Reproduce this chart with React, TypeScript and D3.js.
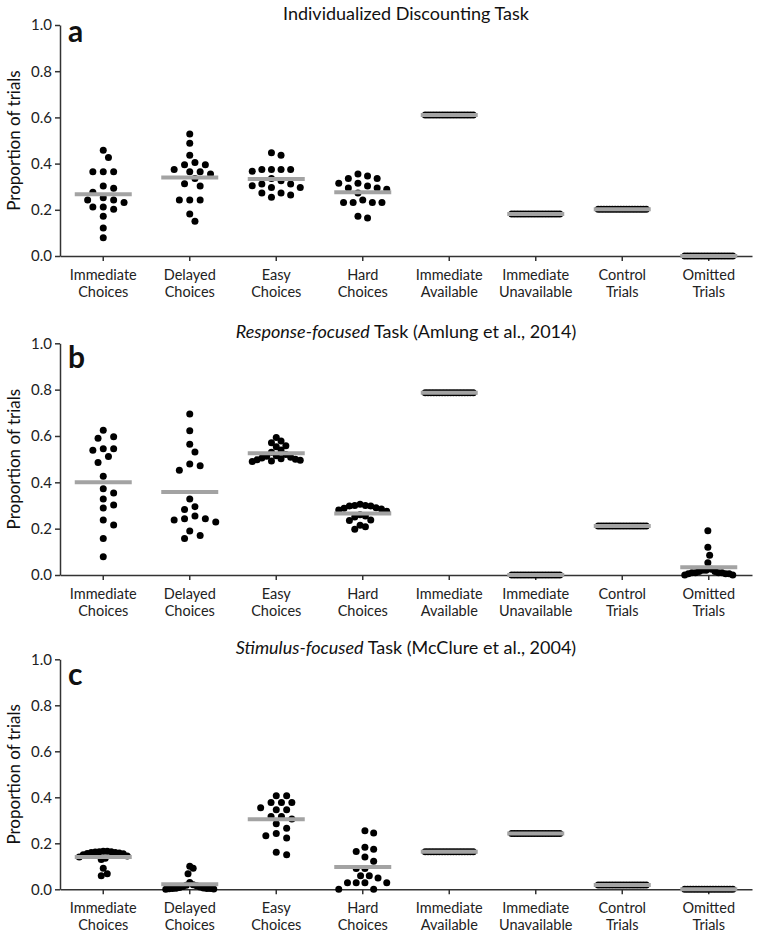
import React, { useEffect, useRef } from "react";
import * as d3 from "d3";

const FONT = "Lato, 'Open Sans', sans-serif";

// category tick labels (two lines each)
const categoryLine1 = ["Immediate", "Delayed", "Easy", "Hard", "Immediate", "Immediate", "Control", "Omitted"];
const categoryLine2 = ["Choices", "Choices", "Choices", "Choices", "Available", "Unavailable", "Trials", "Trials"];
const yTicks = [0, 0.2, 0.4, 0.6, 0.8, 1.0];

// Panel a: Individualized Discounting Task
const aImmediateChoices = [0.458, 0.426, 0.365, 0.365, 0.365, 0.303, 0.293, 0.276, 0.252, 0.242, 0.242, 0.232, 0.212, 0.212, 0.202, 0.172, 0.121, 0.079];
const aDelayedChoices = [0.528, 0.488, 0.436, 0.395, 0.395, 0.405, 0.375, 0.365, 0.365, 0.355, 0.335, 0.303, 0.313, 0.242, 0.242, 0.242, 0.182, 0.150];
const aEasyChoices = [0.447, 0.436, 0.375, 0.375, 0.367, 0.375, 0.375, 0.336, 0.326, 0.312, 0.304, 0.312, 0.296, 0.296, 0.273, 0.273, 0.264, 0.254];
const aHardChoices = [0.355, 0.336, 0.336, 0.346, 0.315, 0.315, 0.294, 0.289, 0.294, 0.303, 0.273, 0.232, 0.232, 0.232, 0.232, 0.242, 0.165, 0.172];
const aImmediateAvailable = [0.61, 0.61, 0.61, 0.61, 0.61, 0.61, 0.61, 0.61, 0.61, 0.61, 0.61, 0.61, 0.61, 0.61, 0.61, 0.61, 0.61, 0.61];
const aImmediateUnavailable = [0.182, 0.182, 0.182, 0.182, 0.182, 0.182, 0.182, 0.182, 0.182, 0.182, 0.182, 0.182, 0.182, 0.182, 0.182, 0.182, 0.182, 0.182];
const aControlTrials = [0.202, 0.202, 0.202, 0.202, 0.202, 0.202, 0.202, 0.202, 0.202, 0.202, 0.202, 0.202, 0.202, 0.202, 0.202, 0.202, 0.202, 0.202];
const aOmittedTrials = [0, 0, 0, 0, 0, 0, 0, 0, 0, 0, 0, 0, 0, 0, 0, 0, 0, 0];

// Panel b: Response-focused Task (Amlung et al., 2014)
const bImmediateChoices = [0.625, 0.590, 0.597, 0.545, 0.538, 0.545, 0.511, 0.486, 0.426, 0.354, 0.372, 0.328, 0.302, 0.289, 0.237, 0.216, 0.158, 0.079];
const bDelayedChoices = [0.695, 0.623, 0.564, 0.531, 0.479, 0.472, 0.452, 0.328, 0.283, 0.295, 0.243, 0.237, 0.229, 0.243, 0.255, 0.190, 0.171, 0.158];
const bEasyChoices = [0.593, 0.578, 0.571, 0.558, 0.554, 0.540, 0.530, 0.520, 0.515, 0.512, 0.508, 0.505, 0.502, 0.500, 0.497, 0.495, 0.492, 0.490];
const bHardChoices = [0.305, 0.300, 0.298, 0.300, 0.298, 0.290, 0.285, 0.288, 0.280, 0.275, 0.260, 0.255, 0.250, 0.237, 0.235, 0.215, 0.208, 0.197];
const bImmediateAvailable = [0.787, 0.787, 0.787, 0.787, 0.787, 0.787, 0.787, 0.787, 0.787, 0.787, 0.787, 0.787, 0.787, 0.787, 0.787, 0.787, 0.787, 0.787];
const bImmediateUnavailable = [0, 0, 0, 0, 0, 0, 0, 0, 0, 0, 0, 0, 0, 0, 0, 0, 0, 0];
const bControlTrials = [0.211, 0.211, 0.211, 0.211, 0.211, 0.211, 0.211, 0.211, 0.211, 0.211, 0.211, 0.211, 0.211, 0.211, 0.211, 0.211, 0.211, 0.211];
const bOmittedTrials = [0.191, 0.120, 0.085, 0.053, 0.025, 0.020, 0.020, 0.015, 0.015, 0.010, 0.010, 0.010, 0.010, 0.005, 0.005, 0.005, 0, 0];

// Panel c: Stimulus-focused Task (McClure et al., 2004)
const cImmediateChoices = [0.165, 0.165, 0.163, 0.163, 0.162, 0.160, 0.160, 0.158, 0.156, 0.155, 0.150, 0.145, 0.140, 0.135, 0.130, 0.091, 0.068, 0.059];
const cDelayedChoices = [0.100, 0.091, 0.068, 0.030, 0.020, 0.018, 0.015, 0.012, 0.010, 0.008, 0.006, 0.005, 0.004, 0.003, 0.003, 0.002, 0.001, 0];
const cEasyChoices = [0.407, 0.407, 0.377, 0.377, 0.377, 0.346, 0.346, 0.355, 0.316, 0.316, 0.306, 0.285, 0.265, 0.243, 0.233, 0.223, 0.150, 0.161];
const cHardChoices = [0.245, 0.255, 0.174, 0.164, 0.183, 0.140, 0.122, 0.090, 0.090, 0.059, 0.049, 0.059, 0.029, 0.029, 0.029, 0.029, 0, 0];
const cImmediateAvailable = [0.163, 0.163, 0.163, 0.163, 0.163, 0.163, 0.163, 0.163, 0.163, 0.163, 0.163, 0.163, 0.163, 0.163, 0.163, 0.163, 0.163, 0.163];
const cImmediateUnavailable = [0.243, 0.243, 0.243, 0.243, 0.243, 0.243, 0.243, 0.243, 0.243, 0.243, 0.243, 0.243, 0.243, 0.243, 0.243, 0.243, 0.243, 0.243];
const cControlTrials = [0.019, 0.019, 0.019, 0.019, 0.019, 0.019, 0.019, 0.019, 0.019, 0.019, 0.019, 0.019, 0.019, 0.019, 0.019, 0.019, 0.019, 0.019];
const cOmittedTrials = [0, 0, 0, 0, 0, 0, 0, 0, 0, 0, 0, 0, 0, 0, 0, 0, 0, 0];

const panelLetters = ["a", "b", "c"];
const titleItalic = ["", "Response-focused", "Stimulus-focused"];
const titleRest = ["Individualized Discounting Task", " Task (Amlung et al., 2014)", " Task (McClure et al., 2004)"];

const panelGroups = [
  [aImmediateChoices, aDelayedChoices, aEasyChoices, aHardChoices, aImmediateAvailable, aImmediateUnavailable, aControlTrials, aOmittedTrials],
  [bImmediateChoices, bDelayedChoices, bEasyChoices, bHardChoices, bImmediateAvailable, bImmediateUnavailable, bControlTrials, bOmittedTrials],
  [cImmediateChoices, cDelayedChoices, cEasyChoices, cHardChoices, cImmediateAvailable, cImmediateUnavailable, cControlTrials, cOmittedTrials],
];

// layout
const W = 762, H = 938;
const X0 = 60, X1 = 752;
const panelTop = [25, 343.3, 659.3];
const panelBottom = [256, 575, 889.3];
const titleY = [20, 338, 654];
const letterY = [42, 368, 685];
const R = 3.5;
const COLLIDE = 8.5;
const STEP = 5.2;
const CAP = 24;
const MEAN_HALF = 28.5;

function swarm(values: number[], y: (v: number) => number): number[] {
  const order = values.map((_, i) => i).sort((a, b) => values[b] - values[a]);
  const placed: { x: number; y: number }[] = [];
  let out: number[] = new Array(values.length).fill(0);
  for (const i of order) {
    const py = y(values[i]);
    for (let k = 0; k < 200; k++) {
      const off = k === 0 ? 0 : (k % 2 === 1 ? 1 : -1) * Math.ceil(k / 2) * STEP;
      if (placed.every((p) => Math.hypot(p.x - off, p.y - py) >= COLLIDE - 0.01)) {
        placed.push({ x: off, y: py });
        out[i] = off;
        break;
      }
    }
  }
  const mn = d3.min(out) as number, mx = d3.max(out) as number;
  if (mx - mn > 2 * CAP) {
    const c = (mx + mn) / 2;
    const s = (2 * CAP) / (mx - mn);
    out = out.map((o) => (o - c) * s);
  }
  return out;
}

export default function App() {
  const ref = useRef<SVGSVGElement>(null);
  useEffect(() => {
    const svg = d3.select(ref.current);
    svg.selectAll("*").remove();
    const x = d3.scaleBand<number>().domain(d3.range(categoryLine1.length)).range([X0, X1]).padding(0);

    panelGroups.forEach((groups, pi) => {
      const y = d3.scaleLinear().domain([0, 1]).range([panelBottom[pi], panelTop[pi]]);
      const g = svg.append("g");

      // title
      const t = g.append("text").attr("x", (X0 + X1) / 2).attr("y", titleY[pi])
        .attr("text-anchor", "middle").attr("font-family", FONT).attr("font-size", 18).attr("fill", "#111");
      if (titleItalic[pi]) t.append("tspan").attr("font-style", "italic").text(titleItalic[pi]);
      t.append("tspan").text(titleRest[pi]);

      // letter
      g.append("text").attr("x", 68).attr("y", letterY[pi]).attr("font-family", FONT)
        .attr("font-weight", "bold").attr("font-size", 30).attr("fill", "#111").text(panelLetters[pi]);

      // y axis
      const ya = g.append("g").attr("transform", `translate(${X0},0)`)
        .call(d3.axisLeft(y).tickValues(yTicks).tickFormat(d3.format(".1f")).tickSize(5).tickSizeOuter(0).tickPadding(3));
      ya.selectAll("text").attr("font-family", FONT).attr("font-size", 15).attr("fill", "#222");
      ya.selectAll("line").attr("stroke", "#333").attr("stroke-width", 1.5);
      ya.select(".domain").attr("stroke", "#333").attr("stroke-width", 1.5);

      // x axis
      const xa = g.append("g").attr("transform", `translate(0,${panelBottom[pi]})`)
        .call(d3.axisBottom(x).tickSize(5).tickSizeOuter(0).tickFormat(() => ""));
      xa.selectAll("line").attr("stroke", "#333").attr("stroke-width", 1.5);
      xa.select(".domain").attr("stroke", "#333").attr("stroke-width", 1.5);
      xa.selectAll<SVGTextElement, number>(".tick text").each(function (d) {
        const el = d3.select(this).attr("font-family", FONT).attr("font-size", 14.5).attr("fill", "#222").attr("y", 0).attr("dy", null);
        el.append("tspan").attr("x", 0).attr("y", 24).text(categoryLine1[d]);
        el.append("tspan").attr("x", 0).attr("y", 41).text(categoryLine2[d]);
      });

      // y axis title
      g.append("text")
        .attr("transform", `translate(20,${(panelTop[pi] + panelBottom[pi]) / 2}) rotate(-90)`)
        .attr("text-anchor", "middle").attr("font-family", FONT).attr("font-size", 17).attr("fill", "#111")
        .text("Proportion of trials");

      // dots + mean lines
      groups.forEach((vals, gi) => {
        const cx = (x(gi) as number) + x.bandwidth() / 2;
        const offs = swarm(vals, y);
        g.append("g").selectAll("circle").data(vals).join("circle")
          .attr("cx", (_, i) => cx + offs[i]).attr("cy", (v) => y(v)).attr("r", R).attr("fill", "#000");
        const m = d3.mean(vals) as number;
        g.append("line").attr("x1", cx - MEAN_HALF).attr("x2", cx + MEAN_HALF)
          .attr("y1", y(m)).attr("y2", y(m)).attr("stroke", "#a3a3a3").attr("stroke-width", 4);
      });
    });
  }, []);
  return <svg ref={ref} width={W} height={H} style={{ position: "absolute", left: 0, top: 0, background: "#fff" }} />;
}
